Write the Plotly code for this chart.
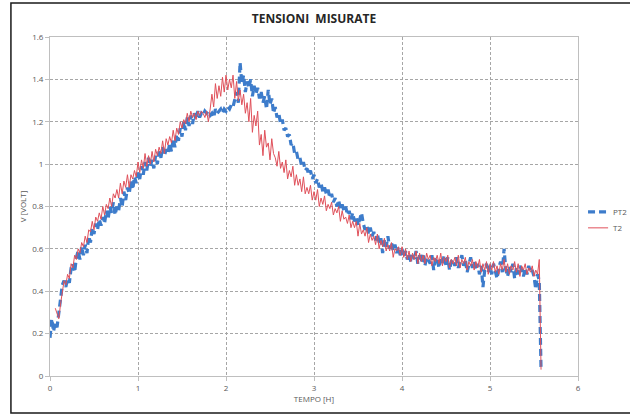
import plotly.graph_objects as go

# Sampling of the acquisition (hours)
T_START = 0.0
T_STEP = 0.02

# PT2 readings [V]
PT2 = [
    0.18, 0.27, 0.21, 0.25, 0.23, 0.30, 0.36, 0.43, 0.45, 0.42,
    0.46, 0.44, 0.51, 0.53, 0.49, 0.56, 0.59, 0.55, 0.61, 0.57,
    0.62, 0.58, 0.66, 0.63, 0.70, 0.67, 0.72, 0.69, 0.74, 0.71,
    0.75, 0.72, 0.78, 0.74, 0.80, 0.77, 0.82, 0.76, 0.80, 0.78,
    0.84, 0.80, 0.87, 0.83, 0.89, 0.86, 0.92, 0.88, 0.94, 0.91,
    0.96, 0.93, 0.99, 0.95, 1.01, 0.97, 1.03, 0.99, 1.02, 0.98,
    1.04, 1.00, 1.06, 1.03, 1.08, 1.04, 1.07, 1.05, 1.10, 1.06,
    1.12, 1.08, 1.14, 1.11, 1.17, 1.13, 1.20, 1.16, 1.22, 1.18,
    1.23, 1.19, 1.24, 1.21, 1.25, 1.22, 1.24, 1.23, 1.25, 1.24,
    1.25, 1.23, 1.24, 1.22, 1.26, 1.24, 1.25, 1.26, 1.24, 1.26,
    1.25, 1.27, 1.26, 1.28, 1.27, 1.30, 1.34, 1.29, 1.48, 1.38,
    1.42, 1.34, 1.39, 1.36, 1.40, 1.32, 1.37, 1.33, 1.36, 1.31,
    1.34, 1.29, 1.32, 1.26, 1.35, 1.28, 1.31, 1.24, 1.27, 1.22,
    1.24, 1.19, 1.21, 1.16, 1.17, 1.13, 1.14, 1.09, 1.10, 1.05,
    1.06, 1.02, 1.03, 0.99, 1.01, 0.97, 0.98, 0.95, 0.97, 0.93,
    0.95, 0.91, 0.93, 0.89, 0.91, 0.87, 0.89, 0.86, 0.88, 0.84,
    0.86, 0.82, 0.84, 0.80, 0.83, 0.79, 0.81, 0.78, 0.80, 0.76,
    0.78, 0.74, 0.77, 0.73, 0.75, 0.71, 0.74, 0.77, 0.72, 0.69,
    0.71, 0.67, 0.70, 0.66, 0.68, 0.64, 0.67, 0.63, 0.65, 0.58,
    0.64, 0.61, 0.66, 0.60, 0.63, 0.59, 0.62, 0.58, 0.61, 0.57,
    0.60, 0.56, 0.59, 0.55, 0.58, 0.54, 0.57, 0.55, 0.59, 0.53,
    0.57, 0.54, 0.58, 0.52, 0.56, 0.55, 0.53, 0.57, 0.50, 0.55,
    0.56, 0.51, 0.55, 0.53, 0.57, 0.52, 0.56, 0.50, 0.54, 0.55,
    0.52, 0.56, 0.51, 0.54, 0.57, 0.52, 0.55, 0.49, 0.53, 0.56,
    0.51, 0.54, 0.50, 0.53, 0.48, 0.52, 0.42, 0.50, 0.53, 0.49,
    0.52, 0.48, 0.53, 0.50, 0.46, 0.51, 0.54, 0.49, 0.60, 0.50,
    0.47, 0.52, 0.49, 0.53, 0.46, 0.51, 0.48, 0.52, 0.50, 0.47,
    0.51, 0.48, 0.52, 0.49, 0.50, 0.47, 0.41, 0.48, 0.45, 0.03,
]

# T2 readings [V]
T2 = [
    None, None, None, 0.32, 0.29, 0.27, 0.34, 0.41, 0.45, 0.43,
    0.48, 0.46, 0.53, 0.51, 0.57, 0.55, 0.60, 0.58, 0.63, 0.61,
    0.66, 0.63, 0.69, 0.68, 0.73, 0.69, 0.75, 0.73, 0.77, 0.74,
    0.80, 0.76, 0.81, 0.79, 0.84, 0.80, 0.86, 0.84, 0.88, 0.84,
    0.91, 0.86, 0.92, 0.89, 0.95, 0.89, 0.95, 0.93, 0.97, 0.94,
    1.01, 0.96, 1.02, 0.98, 1.05, 0.99, 1.04, 1.00, 1.06, 1.01,
    1.07, 1.04, 1.08, 1.05, 1.11, 1.05, 1.12, 1.09, 1.13, 1.10,
    1.16, 1.11, 1.17, 1.14, 1.20, 1.17, 1.21, 1.19, 1.24, 1.20,
    1.25, 1.22, 1.24, 1.21, 1.25, 1.23, 1.25, 1.24, 1.22, 1.25,
    1.20, 1.26, 1.33, 1.27, 1.38, 1.31, 1.37, 1.32, 1.41, 1.34,
    1.42, 1.35, 1.40, 1.36, 1.42, 1.31, 1.39, 1.30, 1.35, 1.28,
    1.33, 1.24, 1.29, 1.20, 1.31, 1.15, 1.23, 1.18, 1.25, 1.09,
    1.14, 1.04, 1.16, 1.08, 1.10, 1.02, 1.12, 1.05, 1.03, 0.99,
    1.06, 0.98, 1.01, 0.96, 1.02, 0.93, 0.97, 0.94, 0.99, 0.90,
    0.95, 0.90, 0.93, 0.87, 0.94, 0.86, 0.89, 0.86, 0.90, 0.83,
    0.87, 0.83, 0.88, 0.80, 0.84, 0.81, 0.85, 0.78, 0.81, 0.79,
    0.82, 0.76, 0.79, 0.77, 0.80, 0.73, 0.78, 0.74, 0.75, 0.72,
    0.76, 0.70, 0.73, 0.70, 0.73, 0.66, 0.72, 0.67, 0.69, 0.66,
    0.70, 0.63, 0.67, 0.64, 0.66, 0.62, 0.67, 0.60, 0.64, 0.61,
    0.65, 0.59, 0.62, 0.59, 0.63, 0.56, 0.60, 0.59, 0.61, 0.57,
    0.61, 0.56, 0.60, 0.55, 0.59, 0.54, 0.58, 0.55, 0.59, 0.53,
    0.58, 0.54, 0.57, 0.53, 0.58, 0.55, 0.57, 0.52, 0.56, 0.54,
    0.57, 0.53, 0.58, 0.52, 0.56, 0.54, 0.57, 0.51, 0.55, 0.53,
    0.56, 0.52, 0.57, 0.51, 0.55, 0.53, 0.56, 0.50, 0.54, 0.52,
    0.55, 0.50, 0.54, 0.51, 0.55, 0.49, 0.53, 0.50, 0.54, 0.48,
    0.53, 0.50, 0.54, 0.49, 0.52, 0.48, 0.53, 0.50, 0.55, 0.49,
    0.53, 0.48, 0.52, 0.50, 0.54, 0.49, 0.53, 0.47, 0.52, 0.50,
    0.53, 0.48, 0.51, 0.49, 0.52, 0.47, 0.50, 0.48, 0.55, 0.03,
]

X_TICKS = [0, 1, 2, 3, 4, 5, 6]
Y_TICKS = [0, 0.2, 0.4, 0.6, 0.8, 1, 1.2, 1.4, 1.6]
Y_TICK_TEXT = ["0", "0.2", "0.4", "0.6", "0.8", "1", "1.2", "1.4", "1.6"]
SERIES_NAMES = ["PT2", "T2"]

tempo = [round(T_START + i * T_STEP, 4) for i in range(len(PT2))]

TEXT_GREY = "#595959"
FONT = "Open Sans"
PT2_LINE = dict(color="#3D7CCB", width=3.2, dash="7px,4px")
T2_LINE = dict(color="#E0505A", width=1.0)

fig = go.Figure()
fig.add_trace(go.Scatter(x=tempo, y=PT2, name=SERIES_NAMES[0], mode="lines", line=PT2_LINE))
fig.add_trace(go.Scatter(x=tempo, y=T2, name=SERIES_NAMES[1], mode="lines", line=T2_LINE))

axis_common = dict(
    showline=True, mirror=True, linecolor="#BFBFBF", linewidth=1,
    showgrid=True, gridcolor="#A6A6A6", gridwidth=1, griddash="3px,2px",
    ticks="outside", ticklen=4, tickcolor="#BFBFBF",
    tickfont=dict(family=FONT, size=8, color=TEXT_GREY),
    zeroline=False,
)

fig.update_xaxes(
    range=[0, 6], tickmode="array", tickvals=X_TICKS,
    title=dict(text="TEMPO [H]", font=dict(family=FONT, size=8, color=TEXT_GREY), standoff=4),
    **axis_common,
)
fig.update_yaxes(
    range=[0, 1.6], tickmode="array", tickvals=Y_TICKS, ticktext=Y_TICK_TEXT,
    title=dict(text="V [VOLT]", font=dict(family=FONT, size=8, color=TEXT_GREY), standoff=4),
    **axis_common,
)

# Legend drawn in the right margin (key lines + labels), so it can sit
# close to the figure edge without resizing the plotting area.
legend_rows = [(SERIES_NAMES[0], PT2_LINE, 0.484), (SERIES_NAMES[1], T2_LINE, 0.437)]
shapes = [dict(
    type="rect", xref="paper", yref="paper",
    x0=-0.074, x1=1.25, y0=-0.109, y1=1.1,
    line=dict(color="#1A1A1A", width=1.5), fillcolor="rgba(0,0,0,0)",
    layer="below",
)]
annotations = []
for name, style, ypos in legend_rows:
    shapes.append(dict(
        type="line", xref="paper", yref="paper",
        x0=1.019, x1=1.057, y0=ypos, y1=ypos, line=style,
    ))
    annotations.append(dict(
        text=name, xref="paper", yref="paper", x=1.062, y=ypos,
        xanchor="left", yanchor="middle", showarrow=False,
        font=dict(family=FONT, size=8, color=TEXT_GREY),
    ))

fig.update_layout(
    width=630, height=419,
    margin=dict(l=50, r=52, t=37, b=43),
    paper_bgcolor="white", plot_bgcolor="white",
    showlegend=False,
    title=dict(
        text="<b>TENSIONI  MISURATE</b>",
        font=dict(family=FONT, size=12, color="#262626"),
        x=0.5, xanchor="center", xref="paper", y=0.955, yanchor="middle",
    ),
    shapes=shapes,
    annotations=annotations,
)

fig.write_html("out.html")
